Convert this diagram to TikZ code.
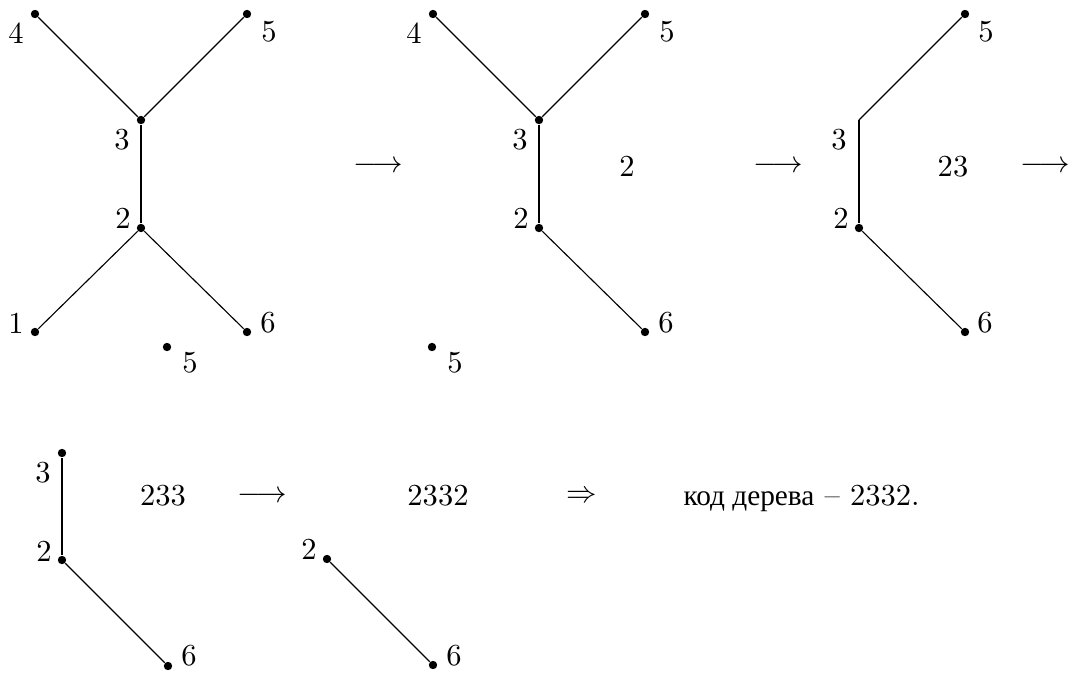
\documentclass[tikz,border=0pt]{standalone}
\usepackage{fontspec}
\usepackage{tikz}
\newfontfamily\cyrfont[Scale=0.96]{Liberation Serif}

\begin{document}
\begin{tikzpicture}[
    x=0.0126cm, y=-0.0126cm,
    every node/.style={font=\fontsize{10.95}{13}\selectfont},
    vertex/.style={circle, fill=black, inner sep=0pt, minimum size=3pt},
    edge/.style={line width=0.4pt},
    stem/.style={line width=0.9pt},
    lbl/.style={inner sep=0pt},
    code/.style={inner sep=0pt}
]
    \useasboundingbox (0,0) rectangle (1069,672);

    % Tree 1
    \node[vertex] (a4) at (35,14) {};
    \node[vertex] (a5) at (247,14) {};
    \node[vertex] (a3) at (141,120) {};
    \node[vertex] (a2) at (141,228) {};
    \node[vertex] (a1) at (35,332) {};
    \node[vertex] (a6) at (247,332) {};
    \node[vertex] (a5b) at (167,347) {};
    \node[lbl] (la4) at (16,33) {4};
    \node[lbl] (la5) at (269,32) {5};
    \node[lbl] (la3) at (122,140) {3};
    \node[lbl] (la2) at (123,218) {2};
    \node[lbl] (la1) at (16,323) {1};
    \node[lbl] (la6) at (268,323) {6};
    \node[lbl] (la5b) at (190,363) {5};
    \draw[edge] (a4) -- (a3) -- (a5);
    \draw[stem] (a3) -- (a2);
    \draw[edge] (a1) -- (a2) -- (a6);

    \node (arr1) at (378,167) {$\longrightarrow$};

    % Tree 2
    \node[vertex] (b4) at (433,14) {};
    \node[vertex] (b5) at (645,14) {};
    \node[vertex] (b3) at (539,120) {};
    \node[vertex] (b2) at (539,228) {};
    \node[vertex] (b6) at (645,332) {};
    \node[vertex] (b5b) at (432,347) {};
    \node[lbl] (lb4) at (414,33) {4};
    \node[lbl] (lb5) at (667,32) {5};
    \node[lbl] (lb3) at (520,140) {3};
    \node[lbl] (lb2) at (521,218) {2};
    \node[lbl] (lb6) at (666,323) {6};
    \node[lbl] (lb5b) at (455,363) {5};
    \node[code] (cb) at (627,166) {2};
    \draw[edge] (b4) -- (b3) -- (b5);
    \draw[stem] (b3) -- (b2);
    \draw[edge] (b2) -- (b6);

    \node (arr2) at (778,167) {$\longrightarrow$};

    % Tree 3
    \coordinate (c3) at (859,120);
    \node[vertex] (c5) at (965,14) {};
    \node[vertex] (c2) at (859,228) {};
    \node[vertex] (c6) at (965,332) {};
    \node[lbl] (lc5) at (986,32) {5};
    \node[lbl] (lc3) at (839,140) {3};
    \node[lbl] (lc2) at (841,218) {2};
    \node[lbl] (lc6) at (985,323) {6};
    \node[code] (cc) at (953,167) {23};
    \draw[edge] (c3) -- (c5);
    \draw[stem] (c3) -- (c2);
    \draw[edge] (c2) -- (c6);

    \node (arr3) at (1045,167) {$\longrightarrow$};

    % Tree 4
    \node[vertex] (d3) at (62,453) {};
    \node[vertex] (d2) at (62,560) {};
    \node[vertex] (d6) at (168,666) {};
    \node[lbl] (ld3) at (43,473) {3};
    \node[lbl] (ld2) at (44,551) {2};
    \node[lbl] (ld6) at (189,656) {6};
    \node[code] (cd) at (163,496) {233};
    \draw[stem] (d3) -- (d2);
    \draw[edge] (d2) -- (d6);

    \node (arr4) at (262,497) {$\longrightarrow$};

    % Tree 5
    \node[vertex] (e2) at (327,559) {};
    \node[vertex] (e6) at (433,665) {};
    \node[lbl] (le2) at (309,549) {2};
    \node[lbl] (le6) at (454,656) {6};
    \node[code] (ce) at (438,496) {2332};
    \draw[edge] (e2) -- (e6);

    % Result
    \node (imp) at (582,497) {$\Rightarrow$};
    \node[code, anchor=base west] (res) at (683,505) {{\cyrfont код дерева} -- 2332.};
\end{tikzpicture}
\end{document}
